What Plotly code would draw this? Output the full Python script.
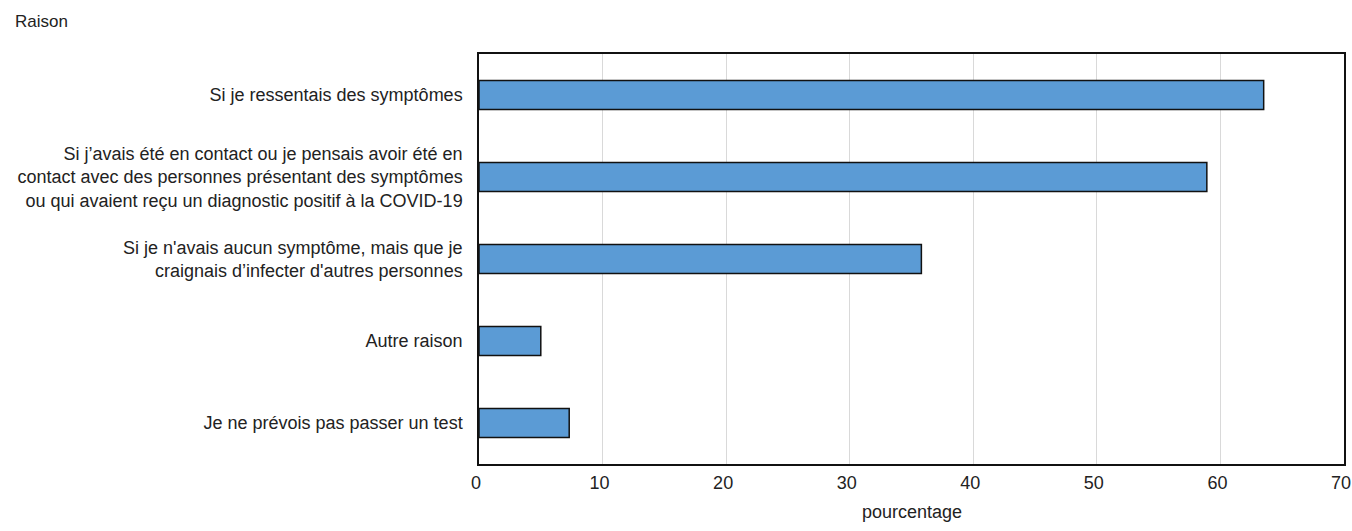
import plotly.graph_objects as go

categories = [
    "Si je ressentais des symptômes",
    "Si j’avais été en contact ou je pensais avoir été en<br>contact avec des personnes présentant des symptômes<br>ou qui avaient reçu un diagnostic positif à la COVID-19",
    "Si je n'avais aucun symptôme, mais que je<br>craignais d’infecter d'autres personnes",
    "Autre raison",
    "Je ne prévois pas passer un test",
]
values = [63.5, 58.9, 35.8, 5.0, 7.3]
x_ticks = [0, 10, 20, 30, 40, 50, 60, 70]

FONT = "Liberation Sans"
TXT = "#222222"

W, H = 1352, 531
# plot area in page pixels: x 479..1344, y 54..464
ml = 479
mr = W - 1344
mt = 54
mb = H - 464
pw, ph = W - ml - mr, H - mt - mb

fig = go.Figure()
fig.add_trace(go.Bar(
    x=values,
    y=categories,
    orientation="h",
    marker=dict(color="#5B9BD5", line=dict(color="#111111", width=1.5)),
    hoverinfo="x+y",
))

fig.update_layout(
    width=W, height=H,
    margin=dict(l=ml, r=mr, t=mt, b=mb, pad=0, autoexpand=False),
    plot_bgcolor="white",
    paper_bgcolor="white",
    bargap=0.646,
    showlegend=False,
    font=dict(family=FONT, size=18, color=TXT),
    xaxis=dict(
        range=[0, 70],
        tickvals=x_ticks,
        ticktext=[str(v) for v in x_ticks],
        showgrid=True, gridcolor="#d9d9d9", gridwidth=1,
        showline=True, linecolor="#111111", linewidth=1.5, mirror=True,
        zeroline=False, automargin=False,
        ticks="", ticklabelstandoff=2, ticklabelshift=-3,
        tickfont=dict(family=FONT, size=18, color=TXT),
        fixedrange=True,
    ),
    yaxis=dict(
        autorange="reversed",
        showgrid=False,
        showline=True, linecolor="#111111", linewidth=1.5, mirror=True,
        automargin=False,
        ticks="", ticklabelstandoff=11,
        tickfont=dict(family=FONT, size=18, color=TXT),
        fixedrange=True,
    ),
    annotations=[
        dict(text="Raison", xref="paper", yref="paper",
             x=(13 - ml) / pw, y=1 + (mt - 22) / ph,
             xanchor="left", yanchor="middle", showarrow=False,
             font=dict(family=FONT, size=17, color=TXT)),
        dict(text="pourcentage", xref="paper", yref="paper",
             x=0.5, y=-(512 - 464) / ph,
             xanchor="center", yanchor="middle", showarrow=False,
             font=dict(family=FONT, size=18, color=TXT)),
    ],
)

fig.write_html(
    "out.html",
    config={"displayModeBar": False},
    post_script="document.body.style.margin='0';document.body.style.overflow='hidden';",
)
